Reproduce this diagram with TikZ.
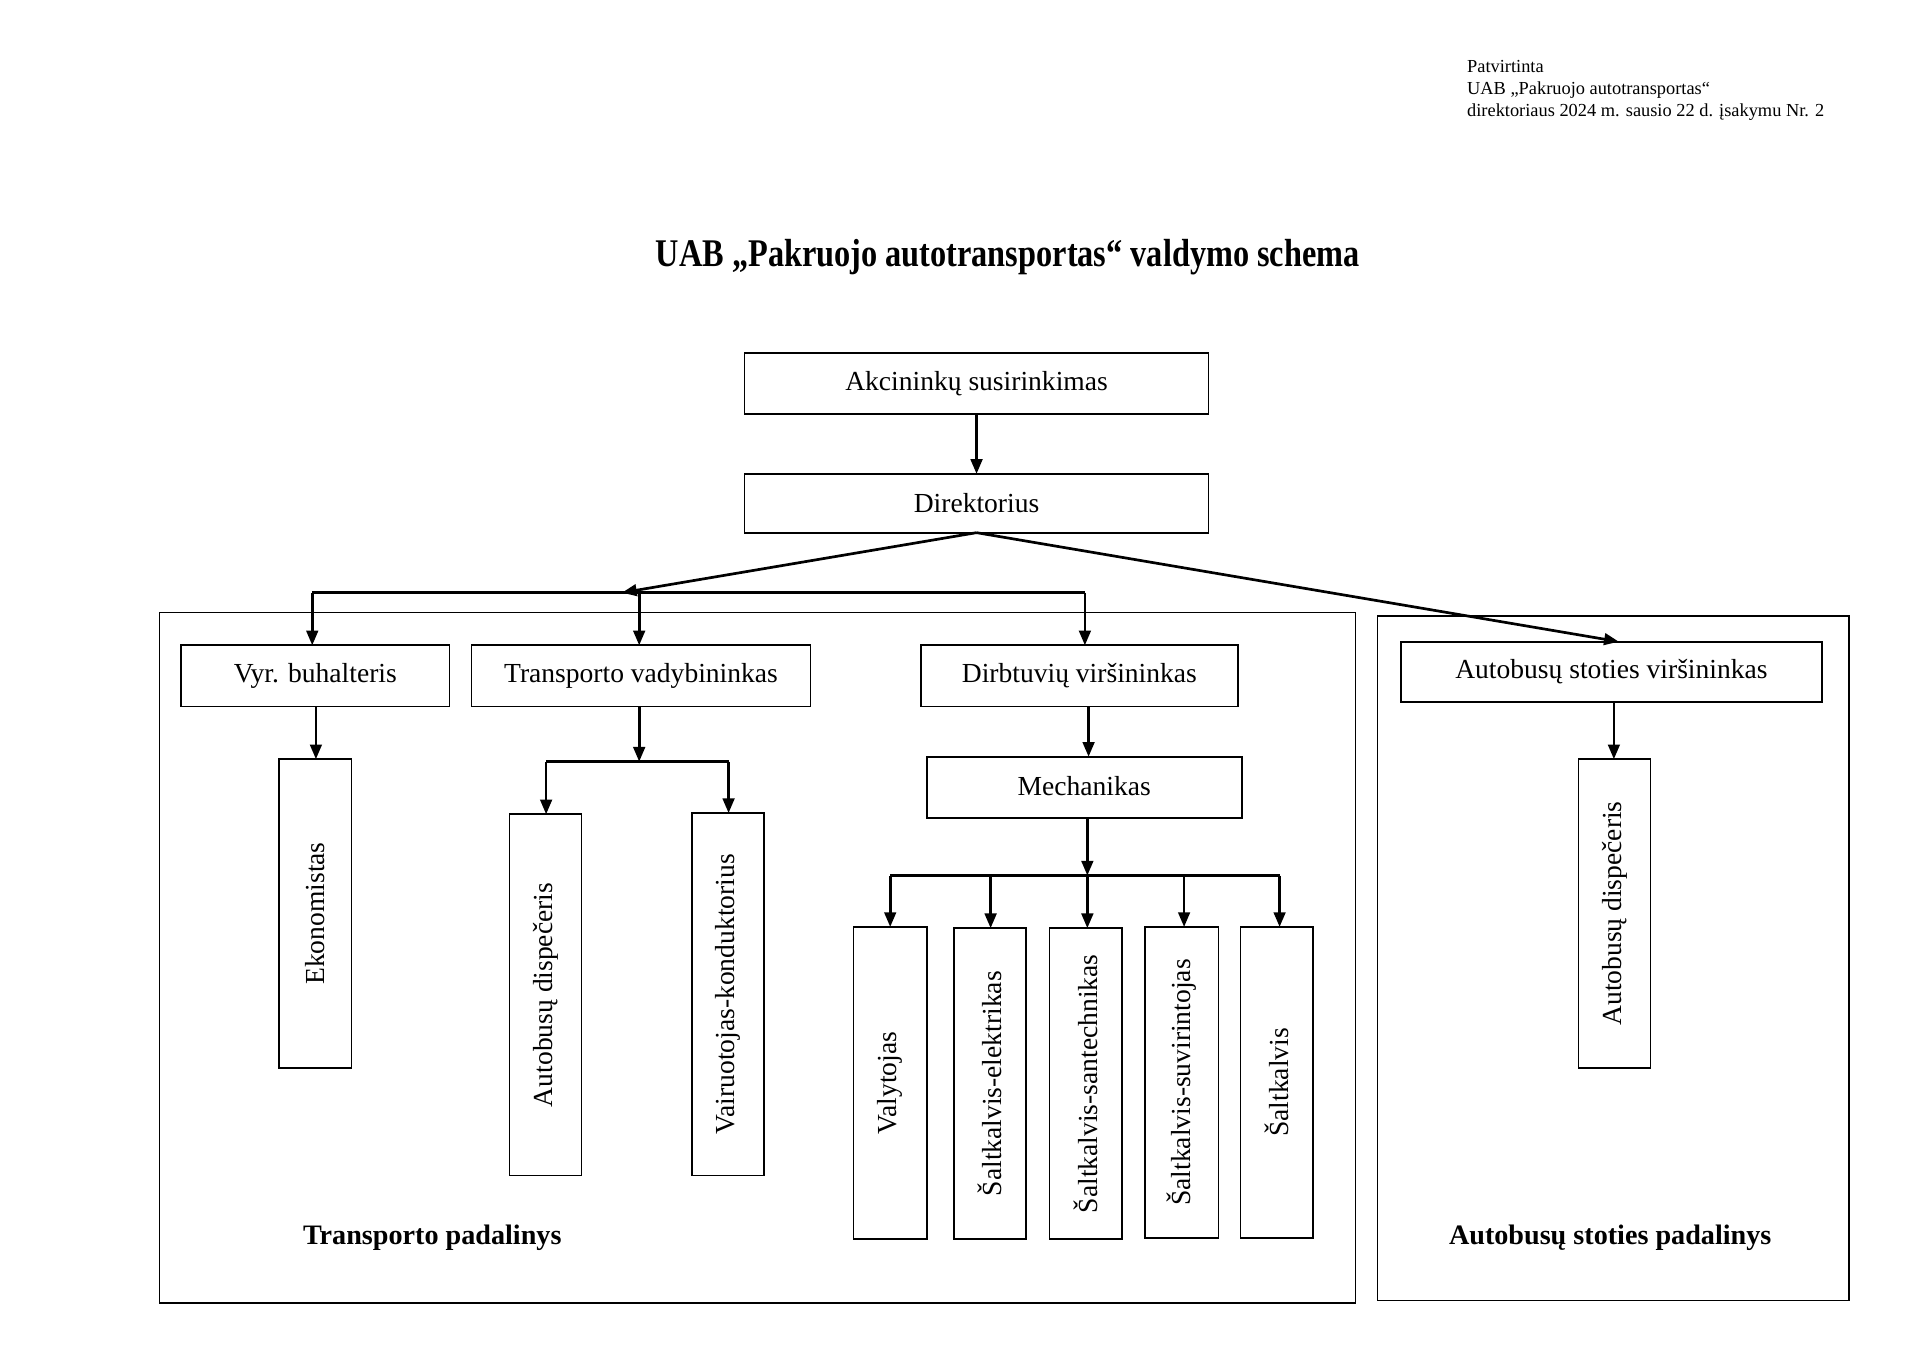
\documentclass[tikz,border=0pt]{standalone}
\usepackage{fontspec}
\setmainfont{Liberation Serif}
\usetikzlibrary{arrows.meta}
\begin{document}
\begin{tikzpicture}[x=1pt,y=-1pt,
  box/.style={draw, line width=1.4pt, inner sep=0pt, outer sep=0pt, font=\fontsize{22.5}{27}\selectfont},
  frame/.style={draw, line width=1.1pt},
  arr/.style={-{Triangle[length=12pt,width=9.5pt]}, line width=2.2pt},
  ln/.style={line width=2.2pt},
  hdr/.style={anchor=base west, inner sep=0pt, font=\fontsize{15}{18}\selectfont},
  ttl/.style={inner sep=0pt, font=\bfseries\fontsize{32}{36}\selectfont, xscale=0.825},
  sect/.style={inner sep=0pt, font=\bfseries\fontsize{23}{27}\selectfont}]
\fill[white] (0,0) rectangle (1568,1109);
\useasboundingbox (0,0) rectangle (1568,1109);

% header
\node[hdr] (h1) at (1198,59) {Patvirtinta};
\node[hdr] (h2) at (1198,77) {UAB „Pakruojo autotransportas“};
\node[hdr] (h3) at (1198,95) {direktoriaus 2024 m. sausio 22 d. įsakymu Nr. 2};

% title
\node[ttl] (title) at (823,210) {UAB „Pakruojo autotransportas“ valdymo schema};

% frames
\draw[frame] (130,500) rectangle (1107,1064);
\draw[frame] (1125,503) rectangle (1510,1062);

% boxes
\node[box, minimum width=379, minimum height=50] (A) at (797.5,313) {\raisebox{-2pt}{Akcininkų susirinkimas}};
\node[box, minimum width=379, minimum height=48] (D) at (797.5,411) {Direktorius};
\node[box, minimum width=219, minimum height=50] (VB) at (257.5,552) {Vyr. buhalteris};
\node[box, minimum width=277, minimum height=50] (TV) at (523.5,552) {Transporto vadybininkas};
\node[box, minimum width=259, minimum height=50] (DV) at (881.5,552) {Dirbtuvių viršininkas};
\node[box, minimum width=344, minimum height=49] (AS) at (1316,548.5) {Autobusų stoties viršininkas};
\node[box, minimum width=257, minimum height=50] (ME) at (885.5,643) {\raisebox{2pt}{Mechanikas}};

\node[box, minimum width=59, minimum height=252] (EK) at (257.5,746) {\rotatebox{90}{Ekonomistas}};
\node[box, minimum width=59, minimum height=295] (AD1) at (445.5,812.5) {\rotatebox{90}{Autobusų dispečeris}};
\node[box, minimum width=59, minimum height=296] (VK) at (594.5,812) {\rotatebox{90}{Vairuotojas-konduktorius}};
\node[box, minimum width=60, minimum height=255] (V1) at (727,884.5) {\rotatebox{90}{Valytojas}};
\node[box, minimum width=59, minimum height=254] (V2) at (808.5,885) {\rotatebox{90}{Šaltkalvis-elektrikas}};
\node[box, minimum width=59, minimum height=254] (V3) at (886.5,885) {\rotatebox{90}{Šaltkalvis-santechnikas}};
\node[box, minimum width=60, minimum height=254] (V4) at (965,884) {\rotatebox{90}{Šaltkalvis-suvirintojas}};
\node[box, minimum width=59, minimum height=254] (V5) at (1042.5,884) {\rotatebox{90}{Šaltkalvis}};
\node[box, minimum width=59, minimum height=252] (AD2) at (1318.5,746) {\rotatebox{90}{Autobusų dispečeris}};

% section labels
\node[sect] (s1) at (353,1011) {Transporto padalinys};
\node[sect] (s2) at (1315,1011) {Autobusų stoties padalinys};

% connectors
\coordinate (busL) at (255,484);
\coordinate (busR) at (886,484);
\coordinate (busTip) at (508,484);
\coordinate (busT) at (522,484);
\draw[arr] (A.south) -- (D.north);
\draw[arr] (D.south) -- (busTip);
\draw[ln] (busL) -- (busR);
\draw[arr] (busL) -- (busL |- VB.north);
\draw[arr] (busT) -- (busT |- TV.north);
\draw[arr] (busR) -- (busR |- DV.north);
\draw[arr] (D.south) -- ([xshift=6pt]AS.north);

\coordinate (vbx) at (258,577);
\draw[arr] (vbx) -- (vbx |- EK.north);

\coordinate (tvx) at (522,577);
\coordinate (tvbus) at (522,622);
\coordinate (tvL) at (446,622);
\coordinate (tvR) at (595,622);
\draw[arr] (tvx) -- (tvbus);
\draw[ln] (tvL) -- (tvR);
\draw[arr] (tvL) -- (tvL |- AD1.north);
\draw[arr] (tvR) -- (tvR |- VK.north);

\coordinate (dvx) at (889,577);
\draw[arr] (dvx) -- (dvx |- ME.north);

\coordinate (mex) at (888,668);
\coordinate (mebus) at (888,715);
\coordinate (mL) at (727,715);
\coordinate (mR) at (1045,715);
\draw[arr] (mex) -- (mebus);
\draw[ln] (mL) -- (mR);
\draw[arr] (mL) -- (mL |- V1.north);
\draw[arr] (809,715) -- (809,758);
\draw[arr] (mebus) -- (mebus |- V3.north);
\draw[arr] (967,715) -- (967,757);
\draw[arr] (mR) -- (mR |- V5.north);

\coordinate (asx) at (1318,573);
\draw[arr] (asx) -- (asx |- AD2.north);
\end{tikzpicture}
\end{document}
